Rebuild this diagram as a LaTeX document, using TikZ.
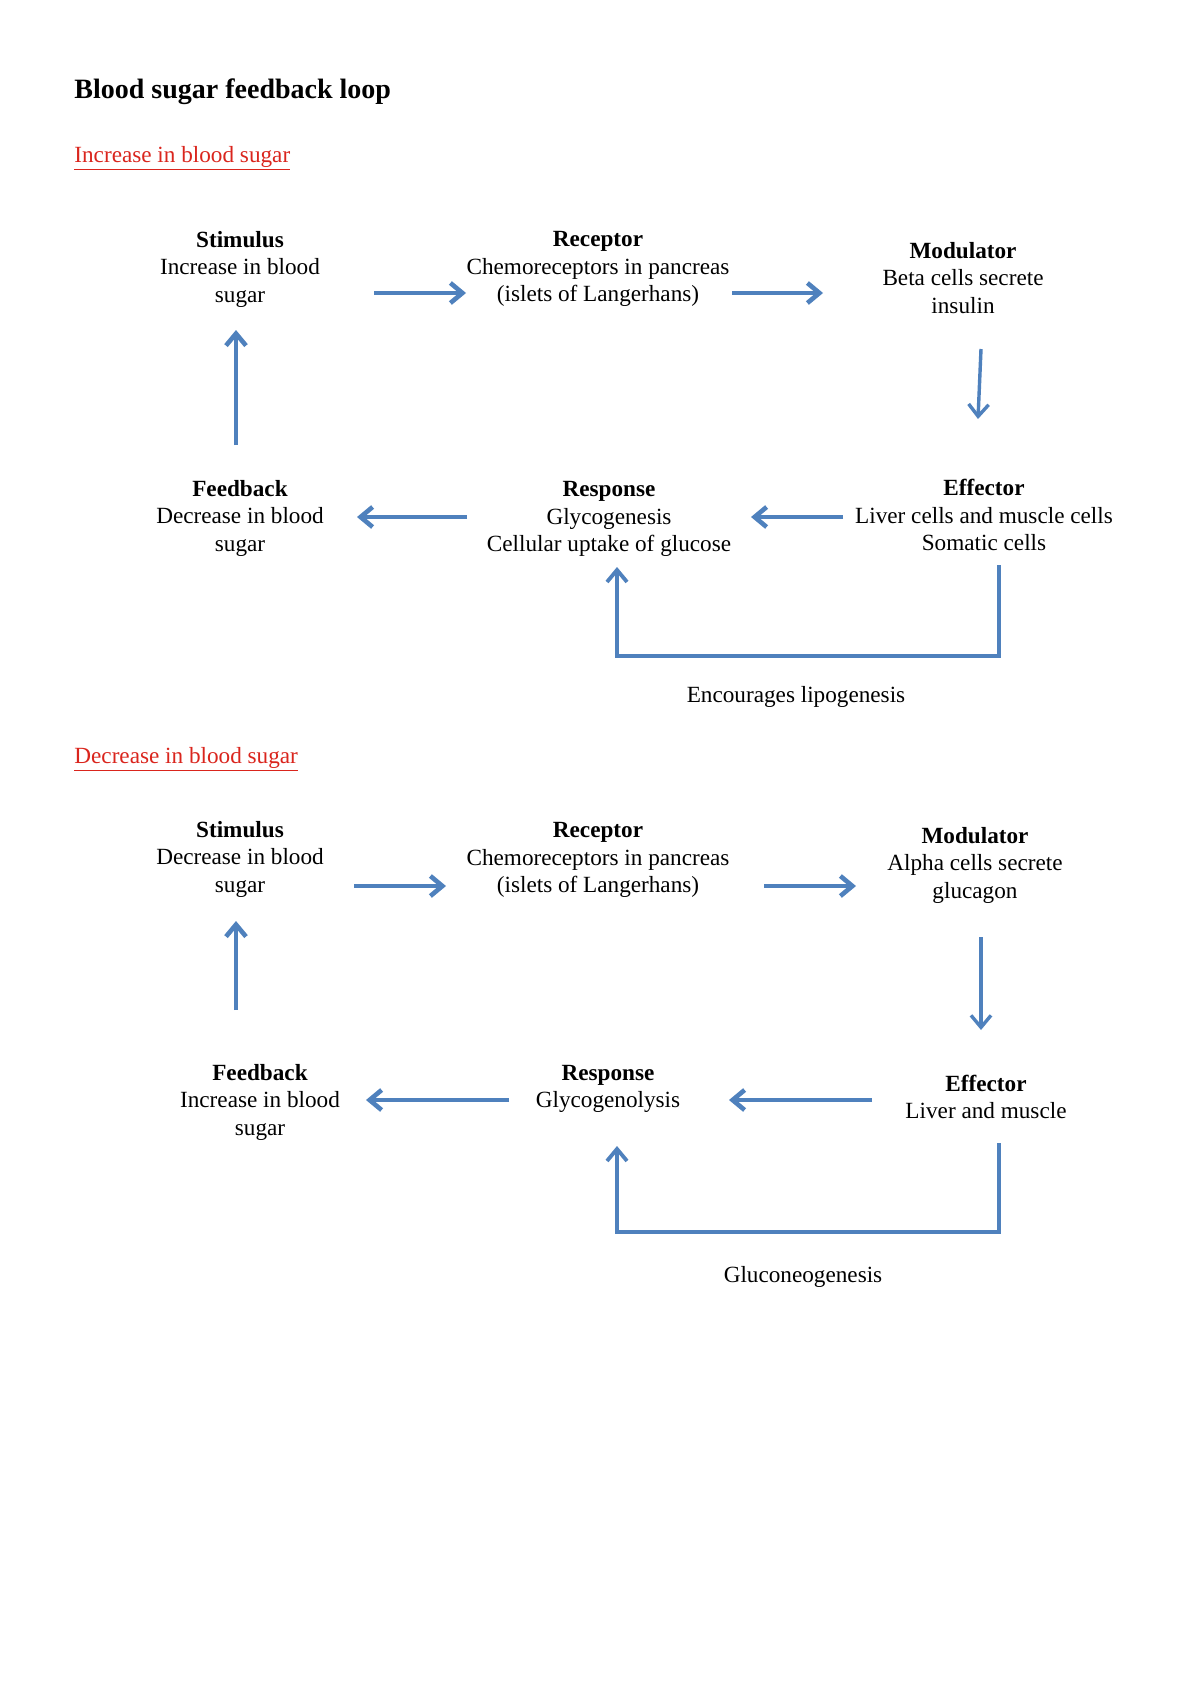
\documentclass[tikz,border=0pt]{standalone}
\usepackage{fontspec}
\setmainfont{Liberation Serif}
\usetikzlibrary{arrows.meta}
\definecolor{arrowblue}{RGB}{79,129,189}
\definecolor{headred}{RGB}{218,37,29}

\begin{document}
\begin{tikzpicture}[x=0.5pt,y=-0.5pt,
  stage/.style={align=center,inner sep=0pt,font=\fontsize{11.6}{13.75}\selectfont},
  heading/.style={anchor=base west,inner sep=0pt,text=headred,font=\fontsize{11.6}{13.75}\selectfont},
  flow/.style={draw=arrowblue,line width=2.3pt,-{Straight Barb[length=6pt,width=10pt]}},
  thinflow/.style={flow,line width=1.7pt}]
\useasboundingbox[fill=white] (0,0) rectangle (1200,1697);

\node[anchor=base west,inner sep=0pt,font=\fontsize{14}{16}\selectfont\bfseries] (title) at (74,98) {Blood sugar feedback loop};

% increase in blood sugar
\node[heading] (uphead) at (74,162) {\underline{Increase in blood sugar}};
\node[stage] (stim) at (240,269) {\textbf{Stimulus}\\Increase in blood\\sugar};
\node[stage] (rec) at (598,269) {\textbf{Receptor}\\Chemoreceptors in pancreas\\(islets of Langerhans)};
\node[stage] (mod) at (963,278) {\textbf{Modulator}\\Beta cells secrete\\insulin};
\node[stage] (fb) at (240,518) {\textbf{Feedback}\\Decrease in blood\\sugar};
\node[stage] (resp) at (609,519) {\textbf{Response}\\Glycogenesis\\Cellular uptake of glucose};
\node[stage] (eff) at (984,515) {\textbf{Effector}\\Liver cells and muscle cells\\Somatic cells};
\node[stage] (lipo) at (796,697) {Encourages lipogenesis};

\draw[flow] ([shift={(134,24)}]stim.center) -- ([shift={(-132,24)}]rec.center);
\draw[flow] ([shift={(134,24)}]rec.center) -- ([shift={(-140,15)}]mod.center);
\draw[thinflow] ([shift={(18,71)}]mod.center) -- ([shift={(-6,-96)}]eff.center);
\draw[flow] ([shift={(-141,2)}]eff.center) -- ([shift={(142,-2)}]resp.center);
\draw[flow] ([shift={(-142,-2)}]resp.center) -- ([shift={(117,-1)}]fb.center);
\draw[flow] ([shift={(-4,-73)}]fb.center) -- ([shift={(-4,61)}]stim.center);
\draw[flow,line width=1.9pt] ([shift={(15,50)}]eff.center) -- ++(0,91) -| ([shift={(8,48)}]resp.center);

% decrease in blood sugar
\node[heading] (downhead) at (74,763) {\underline{Decrease in blood sugar}};
\node[stage] (stimb) at (240,859) {\textbf{Stimulus}\\Decrease in blood\\sugar};
\node[stage] (recb) at (598,860) {\textbf{Receptor}\\Chemoreceptors in pancreas\\(islets of Langerhans)};
\node[stage] (modb) at (975,865) {\textbf{Modulator}\\Alpha cells secrete\\glucagon};
\node[stage] (fbb) at (260,1102) {\textbf{Feedback}\\Increase in blood\\sugar};
\node[stage] (respb) at (608,1089) {\textbf{Response}\\Glycogenolysis};
\node[stage] (effb) at (986,1097) {\textbf{Effector}\\Liver and muscle};
\node[stage] (gluco) at (803,1277) {Gluconeogenesis};

\draw[flow] ([shift={(114,27)}]stimb.center) -- ([shift={(-152,26)}]recb.center);
\draw[flow] ([shift={(166,26)}]recb.center) -- ([shift={(-119,21)}]modb.center);
\draw[thinflow] ([shift={(6,72)}]modb.center) -- ([shift={(-5,-67)}]effb.center);
\draw[flow] ([shift={(-114,3)}]effb.center) -- ([shift={(121,11)}]respb.center);
\draw[flow] ([shift={(-99,11)}]respb.center) -- ([shift={(106,-2)}]fbb.center);
\draw[flow] ([shift={(-24,-92)}]fbb.center) -- ([shift={(-4,62)}]stimb.center);
\draw[flow,line width=1.9pt] ([shift={(13,46)}]effb.center) -- ++(0,89) -| ([shift={(9,57)}]respb.center);
\end{tikzpicture}
\end{document}
